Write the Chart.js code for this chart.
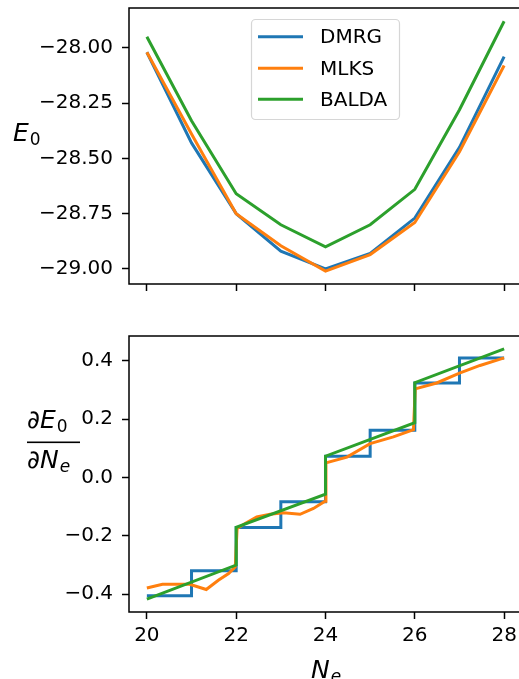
<!DOCTYPE html>
<html>
<head>
<meta charset="UTF-8">
<title>E0 vs Ne</title>
<script src="https://cdn.jsdelivr.net/npm/chart.js"></script>
<style>
  body { margin: 0; width: 519px; height: 679px; overflow: hidden; background: #fff; position: relative; }
  canvas { position: absolute; left: 0; }
  #topChart { top: 0; }
  #bottomChart { top: 320px; }
</style>
</head>
<body>
<canvas id="topChart" width="519" height="300"></canvas>
<canvas id="bottomChart" width="519" height="359"></canvas>

<script>
  // electron numbers and ground state energies
  const nE = [20, 21, 22, 23, 24, 25, 26, 27, 28];
  const e0Dmrg = [-28.02, -28.43, -28.75, -28.92, -29.00, -28.93, -28.77, -28.45, -28.04];
  const e0Mlks = [-28.02, -28.39, -28.75, -28.895, -29.01, -28.935, -28.79, -28.47, -28.08];
  const e0Balda = [-27.95, -28.33, -28.66, -28.80, -28.90, -28.80, -28.64, -28.28, -27.88];

  // derivative dE0/dNe
  const dDmrg = [-0.405, -0.32, -0.171, -0.083, 0.073, 0.162, 0.324, 0.41, 0.41];
  const dMlksX = [20, 20.35, 20.96, 21.33, 21.6, 21.83, 21.98, 22.02, 22.2, 22.46, 22.76, 23.06, 23.43, 23.73, 23.99,
                  24.01, 24.48, 25.0, 25.52, 25.97, 26.01, 26.49, 27.0, 27.46, 28];
  const dMlksY = [-0.379, -0.366, -0.366, -0.384, -0.352, -0.329, -0.306, -0.175, -0.158, -0.135, -0.126, -0.121, -0.126, -0.106, -0.081,
                  0.05, 0.07, 0.116, 0.139, 0.164, 0.304, 0.324, 0.358, 0.384, 0.41];
  const dBaldaX = [20, 22, 22, 24, 24, 26, 26, 28];
  const dBaldaY = [-0.417, -0.30, -0.171, -0.057, 0.073, 0.188, 0.325, 0.441];

  const xTicks = [20, 22, 24, 26, 28];
  const topTicks = [-29.00, -28.75, -28.50, -28.25, -28.00];
  const bottomTicks = [-0.4, -0.2, 0.0, 0.2, 0.4];

  const seriesNames = ['DMRG', 'MLKS', 'BALDA'];
  const colors = ['#1f77b4', '#ff7f0e', '#2ca02c'];
  const FONT = '"DejaVu Sans", sans-serif';

  function pts(xs, ys) {
    return xs.map((x, i) => ({ x: x, y: ys[i] }));
  }

  function minus(s) {
    return s.replace('-', '\u2212');
  }

  // no automatic margins for edge labels, the layout is fixed by hand
  function noPad(s) {
    s.paddingTop = 0;
    s.paddingBottom = 0;
    s.paddingLeft = 0;
    s.paddingRight = 0;
  }

  // box around the plot area (matplotlib spines), right side is off the picture
  const framePlugin = {
    id: 'frame',
    afterDatasetsDraw(chart) {
      const a = chart.chartArea;
      const ctx = chart.ctx;
      ctx.save();
      ctx.strokeStyle = '#000';
      ctx.lineWidth = 1.5;
      ctx.beginPath();
      ctx.moveTo(a.right + 5, a.top);
      ctx.lineTo(a.left, a.top);
      ctx.lineTo(a.left, a.bottom);
      ctx.lineTo(a.right + 5, a.bottom);
      ctx.stroke();
      ctx.restore();
    }
  };

  // legend drawn inside the top axes
  const legendPlugin = {
    id: 'boxLegend',
    afterDraw(chart) {
      const ctx = chart.ctx;
      ctx.save();
      ctx.fillStyle = 'rgba(255,255,255,0.8)';
      ctx.strokeStyle = '#d6d6d6';
      ctx.lineWidth = 1.2;
      ctx.beginPath();
      ctx.roundRect(251.5, 19.5, 148, 100, 4);
      ctx.fill();
      ctx.stroke();
      const ys = [36.7, 68.3, 99.3];
      ctx.font = '20px ' + FONT;
      ctx.textBaseline = 'middle';
      ctx.fillStyle = '#000';
      chart.data.datasets.forEach((ds, i) => {
        ctx.strokeStyle = ds.borderColor;
        ctx.lineWidth = 3;
        ctx.beginPath();
        ctx.moveTo(258, ys[i]);
        ctx.lineTo(303, ys[i]);
        ctx.stroke();
        ctx.fillText(ds.label, 320, ys[i] + 1);
      });
      ctx.restore();
    }
  };

  // math style axis labels
  function drawSub(ctx, main, sub, x, y, subItalic) {
    ctx.font = 'italic 25px ' + FONT;
    ctx.fillText(main, x, y);
    const w = ctx.measureText(main).width;
    ctx.font = (subItalic ? 'italic ' : '') + '17px ' + FONT;
    ctx.fillText(sub, x + w + 1, y + 4);
  }

  const topLabelPlugin = {
    id: 'topLabel',
    afterDraw(chart) {
      const ctx = chart.ctx;
      ctx.save();
      ctx.fillStyle = '#000';
      ctx.textBaseline = 'alphabetic';
      drawSub(ctx, 'E', '0', 13, 141, false);
      ctx.restore();
    }
  };

  const bottomLabelPlugin = {
    id: 'bottomLabel',
    afterDraw(chart) {
      const ctx = chart.ctx;
      const off = 320; // canvas offset in page
      ctx.save();
      ctx.fillStyle = '#000';
      ctx.textBaseline = 'alphabetic';
      drawSub(ctx, '\u2202E', '0', 27, 428 - off, false);
      ctx.fillRect(27, 441.5 - off, 53, 1.6);
      drawSub(ctx, '\u2202N', 'e', 27, 468 - off, true);
      drawSub(ctx, 'N', 'e', 311, 678 - off, true);
      ctx.restore();
    }
  };

  // visible x window: 19.6 at the left spine, the picture is cut just before the right spine
  function xAxis(showLabels, height) {
    return {
      type: 'linear',
      min: 19.6,
      max: 28.333,
      afterBuildTicks: s => { s.ticks = xTicks.map(v => ({ value: v })); },
      afterFit: s => { s.height = height; noPad(s); },
      grid: { drawOnChartArea: false, tickLength: 7, tickColor: '#000', tickWidth: 1.5 },
      border: { display: false },
      ticks: {
        padding: 5,
        color: '#000',
        maxRotation: 0,
        font: { family: FONT, size: 20 },
        callback: v => showLabels ? String(v) : ''
      }
    };
  }

  function yAxis(min, max, tickVals, digits) {
    return {
      min: min,
      max: max,
      afterBuildTicks: s => { s.ticks = tickVals.map(v => ({ value: v })); },
      afterFit: s => { s.width = 129; noPad(s); },
      grid: { drawOnChartArea: false, tickLength: 7, tickColor: '#000', tickWidth: 1.5 },
      border: { display: false },
      ticks: {
        padding: 9,
        color: '#000',
        font: { family: FONT, size: 20 },
        callback: v => minus(Number(v).toFixed(digits))
      }
    };
  }

  function lineSet(label, data, color, order, extra) {
    return Object.assign({
      label: label,
      data: data,
      borderColor: color,
      backgroundColor: color,
      borderWidth: 3,
      pointRadius: 0,
      tension: 0,
      fill: false,
      order: order
    }, extra || {});
  }

  const commonOpts = {
    responsive: false,
    animation: false,
    devicePixelRatio: 1,
    plugins: { legend: { display: false }, tooltip: { enabled: false } }
  };

  new Chart(document.getElementById('topChart'), {
    type: 'line',
    data: {
      datasets: [
        lineSet(seriesNames[0], pts(nE, e0Dmrg), colors[0], 3),
        lineSet(seriesNames[1], pts(nE, e0Mlks), colors[1], 2),
        lineSet(seriesNames[2], pts(nE, e0Balda), colors[2], 1)
      ]
    },
    options: Object.assign({}, commonOpts, {
      layout: { autoPadding: false, padding: { left: 0, top: 8, right: 0, bottom: 0 } },
      scales: {
        x: xAxis(false, 16),
        y: yAxis(-29.068, -27.82, topTicks, 2)
      }
    }),
    plugins: [framePlugin, legendPlugin, topLabelPlugin]
  });

  new Chart(document.getElementById('bottomChart'), {
    type: 'line',
    data: {
      datasets: [
        lineSet(seriesNames[0], pts(nE, dDmrg), colors[0], 3, { stepped: 'before' }),
        lineSet(seriesNames[1], pts(dMlksX, dMlksY), colors[1], 2),
        lineSet(seriesNames[2], pts(dBaldaX, dBaldaY), colors[2], 1)
      ]
    },
    options: Object.assign({}, commonOpts, {
      layout: { autoPadding: false, padding: { left: 0, top: 16, right: 0, bottom: 0 } },
      scales: {
        x: xAxis(true, 67),
        y: yAxis(-0.461, 0.485, bottomTicks, 1)
      }
    }),
    plugins: [framePlugin, bottomLabelPlugin]
  });
</script>
</body>
</html>
